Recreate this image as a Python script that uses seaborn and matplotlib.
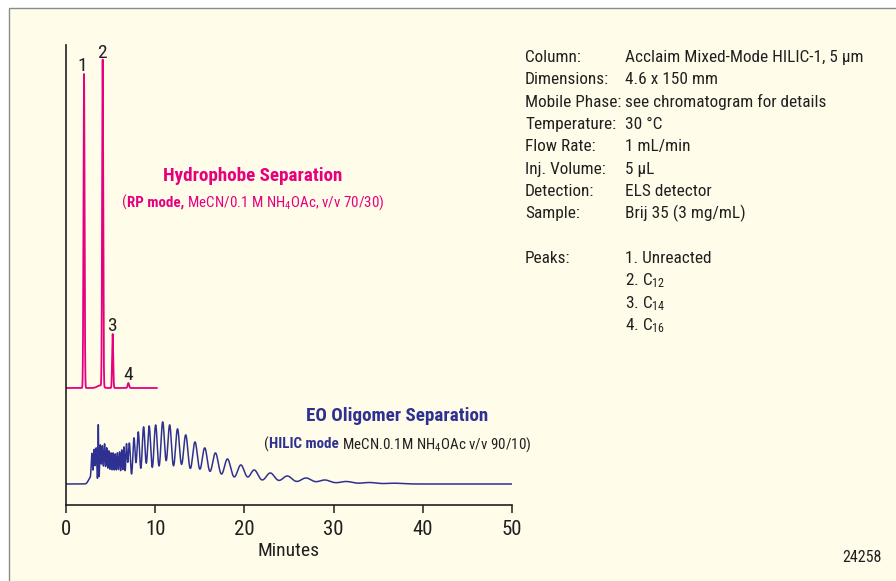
import numpy as np
import pandas as pd
import matplotlib
matplotlib.use("Agg")
import matplotlib.pyplot as plt
import seaborn as sns
from matplotlib.patches import Rectangle
from matplotlib import font_manager as fm

# ---------------- data ----------------
# RP-mode (hydrophobe) chromatogram: main peaks
pink_peak_labels = ["1", "2", "3", "4"]
pink_peak_times = [2.02, 4.11, 5.23, 6.99]
pink_peak_heights = [314, 327, 54, 5]
pink_peak_widths = [0.06, 0.06, 0.06, 0.08]
# small baseline bump seen between peaks 1 and 2
pink_bump_times = [3.8]
pink_bump_heights = [2.5]
pink_bump_widths = [0.3]
pink_run_end = 10.2

# HILIC-mode (EO oligomer) chromatogram peak table
blue_peak_times = [2.70, 2.90, 3.15, 3.38, 3.62, 3.85, 4.08, 4.32, 4.56, 4.80,
                   5.04, 5.28, 5.52, 5.76, 6.00, 6.25, 6.50, 6.78, 7.10, 7.62,
                   8.10, 8.70, 9.32, 10.05, 10.84, 11.62, 12.50, 13.42, 14.46,
                   15.55, 16.75, 18.10, 19.60, 21.10, 22.90, 24.80, 26.90,
                   29.00, 31.40, 34.00, 36.80]
blue_peak_heights = [6, 27, 34, 36, 59, 39, 38, 40, 36, 33,
                     31, 31, 30, 31, 32, 34, 37, 39, 41, 46,
                     52, 57, 58, 59, 62, 59, 55, 49, 42,
                     36, 31, 25, 19, 14, 11, 8, 6,
                     4, 2.5, 1.5, 0.8]
blue_peak_widths = [0.2, 0.07, 0.07, 0.07, 0.035, 0.07, 0.07, 0.07, 0.07, 0.07,
                    0.07, 0.07, 0.07, 0.07, 0.07, 0.07, 0.07, 0.08, 0.12, 0.13,
                    0.145, 0.16, 0.175, 0.195, 0.21, 0.22, 0.24, 0.265, 0.29,
                    0.31, 0.35, 0.38, 0.41, 0.45, 0.50, 0.55, 0.60,
                    0.65, 0.72, 0.78, 0.85]
blue_run_end = 50

x_ticks = [0, 10, 20, 30, 40, 50]
x_label = "Minutes"

cond_labels = ["Column:", "Dimensions:", "Mobile Phase:", "Temperature:",
               "Flow Rate:", "Inj. Volume:", "Detection:", "Sample:"]
cond_values = ["Acclaim Mixed-Mode HILIC-1, 5 \u00b5m", "4.6 x 150 mm",
               "see chromatogram for details", "30 \u00b0C", "1 mL/min",
               "5 \u00b5L", "ELS detector", "Brij 35 (3 mg/mL)"]
peaks_title = "Peaks:"
peaks_list = ["1. Unreacted", "2. C$\\mathregular{_{12}}$",
              "3. C$\\mathregular{_{14}}$", "4. C$\\mathregular{_{16}}$"]
figure_id = "24258"

# ---------------- style ----------------
PINK = "#E6007E"
BLUE = "#2E3192"
DARK = "#231F20"
CREAM = "#FFFDEA"
W, H = 896, 581

sns.set_style("ticks")
installed = {f.name for f in fm.fontManager.ttflist}
narrow_candidates = ["Nimbus Sans Narrow", "Liberation Sans Narrow", "Roboto Condensed",
                     "Pragati Narrow", "Archivo Narrow", "IBM Plex Sans Condensed",
                     "Liberation Sans"]
main_font = next((f for f in narrow_candidates if f in installed), "DejaVu Sans")
plt.rcParams["font.family"] = [main_font, "DejaVu Sans"]
plt.rcParams["text.color"] = DARK

def trace(t, times, heights, widths):
    y = np.zeros_like(t)
    for c, h, w in zip(times, heights, widths):
        y += h * np.exp(-(t - c) ** 2 / (2 * w ** 2))
    return y

t_pink = np.linspace(0, pink_run_end, 4001)
y_pink = (trace(t_pink, pink_peak_times, pink_peak_heights, pink_peak_widths)
          + trace(t_pink, pink_bump_times, pink_bump_heights, pink_bump_widths))
t_blue = np.linspace(0, blue_run_end, 10001)
y_blue = trace(t_blue, blue_peak_times, blue_peak_heights, blue_peak_widths)

PINK_OFFSET = 117   # vertical offset of the RP trace in the stacked display
BLUE_OFFSET = 21

df_pink = pd.DataFrame({"Minutes": t_pink, "signal": y_pink + PINK_OFFSET})
df_blue = pd.DataFrame({"Minutes": t_blue, "signal": y_blue + BLUE_OFFSET})

fig = plt.figure(figsize=(W / 100, H / 100), dpi=100)
fig.patch.set_facecolor("white")
fig.add_artist(Rectangle((9 / W, -0.05), 1.2, 1 - 8 / H + 0.05,
                         transform=fig.transFigure, facecolor=CREAM,
                         edgecolor="#8a8a8a", lw=1.0, zorder=-10))

ax = fig.add_axes([66 / W, 76 / H, 446 / W, 460 / H])
ax.set_facecolor("none")

sns.lineplot(data=df_blue, x="Minutes", y="signal", ax=ax, color=BLUE,
             lw=1.1, estimator=None, sort=False)
sns.lineplot(data=df_pink, x="Minutes", y="signal", ax=ax, color=PINK,
             lw=1.3, estimator=None, sort=False)

ax.set_xlim(0, 50)
ax.set_ylim(0, 460)
ax.set_xticks(x_ticks)
ax.set_xticklabels([str(v) for v in x_ticks])
ax.set_yticks([])
ax.set_ylabel("")
ax.set_xlabel(x_label, fontsize=14, color=DARK, va="baseline")
ax.xaxis.set_label_coords(0.5, -(556 - 505) / 460)
for s in ["top", "right"]:
    ax.spines[s].set_visible(False)
for s in ["left", "bottom"]:
    ax.spines[s].set_linewidth(1.2)
    ax.spines[s].set_color(DARK)
ax.tick_params(axis="x", direction="out", length=5.5, width=1.1, colors=DARK,
               labelsize=15, pad=5)

# peak numbers
label_dx = [-1.5, -1, -0.5, -0.5]
for lab, tt, hh, dx in zip(pink_peak_labels, pink_peak_times, pink_peak_heights, label_dx):
    ax.annotate(lab, xy=(tt, hh + PINK_OFFSET), xytext=(dx, 3),
                textcoords="offset pixels", ha="center", va="baseline",
                fontsize=14, color=DARK)

def px(x, y):
    return x / W, 1 - y / H

renderer = fig.canvas.get_renderer()

def chain(pieces, x, y):
    texts = []
    for s, kw in pieces:
        texts.append(fig.text(0, 0, s, va="baseline", ha="left", **kw))
    widths = [tx.get_window_extent(renderer).width for tx in texts]
    x0 = x - sum(widths) / 2
    for tx, w in zip(texts, widths):
        tx.set_position(px(x0, y))
        x0 += w

SUB = 10.8
# titles
fig.text(*px(252.5, 180.7), "Hydrophobe Separation", ha="center", va="baseline",
         fontsize=13.7, fontweight="bold", color=PINK)
chain([("(", dict(fontsize=SUB, color=PINK)),
       ("RP mode,", dict(fontsize=SUB, color=PINK, fontweight="bold")),
       (" MeCN/0.1 M NH$\\mathregular{_4}$OAc, v/v 70/30)", dict(fontsize=SUB, color=PINK))],
      253.5, 206.7)

fig.text(*px(397.5, 421), "EO Oligomer Separation", ha="center", va="baseline",
         fontsize=13.7, fontweight="bold", color=BLUE)
chain([("(", dict(fontsize=SUB, color=DARK)),
       ("HILIC mode", dict(fontsize=SUB, color=BLUE, fontweight="bold")),
       (" MeCN.0.1M NH$\\mathregular{_4}$OAc v/v 90/10)", dict(fontsize=SUB, color=DARK))],
      397.5, 448.3)

# conditions block
FS = 12.4
row = 22.35
for i, (lab, val) in enumerate(zip(cond_labels, cond_values)):
    yb = 62 + i * row
    fig.text(*px(525, yb), lab, ha="left", va="baseline", fontsize=FS, color=DARK)
    fig.text(*px(625, yb), val, ha="left", va="baseline", fontsize=FS, color=DARK)
fig.text(*px(525, 62 + 9 * row), peaks_title, ha="left", va="baseline", fontsize=FS, color=DARK)
for j, p in enumerate(peaks_list):
    fig.text(*px(625, 62 + (9 + j) * row), p, ha="left", va="baseline", fontsize=FS, color=DARK)

fig.text(*px(862, 561.7), figure_id, ha="center", va="baseline", fontsize=11.5, color=DARK)

fig.savefig("out.png", dpi=100, facecolor=fig.get_facecolor())
